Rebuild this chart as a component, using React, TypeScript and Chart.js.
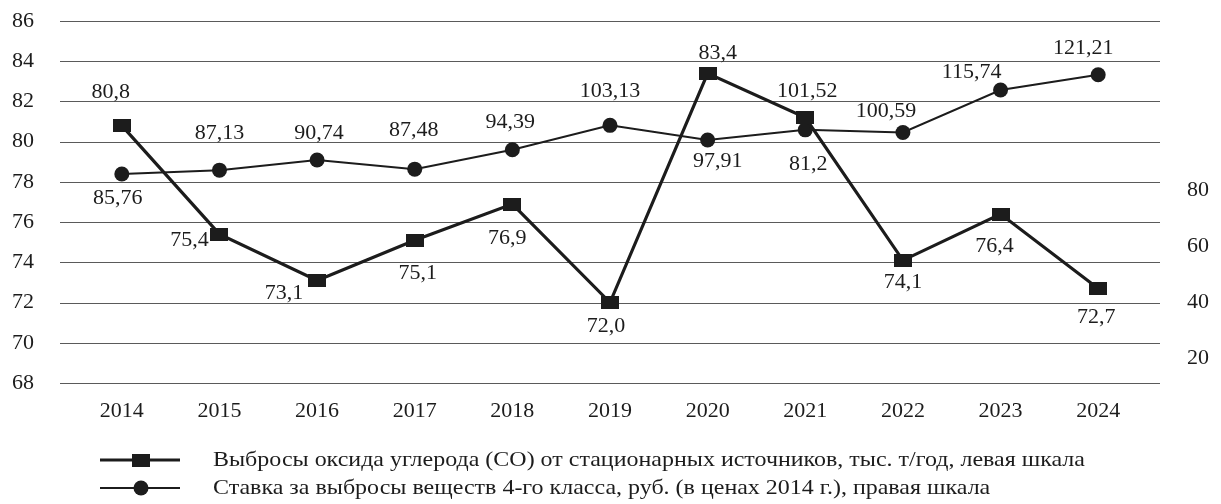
import React, { useEffect, useRef } from "react";
import { Chart, registerables } from "chart.js";

Chart.register(...registerables);

const years = ["2014", "2015", "2016", "2017", "2018", "2019", "2020", "2021", "2022", "2023", "2024"];
// Выбросы CO, тыс. т/год (левая шкала)
const coEmissions = [80.8, 75.4, 73.1, 75.1, 76.9, 72.0, 83.4, 81.2, 74.1, 76.4, 72.7];
// Ставка за выбросы веществ 4-го класса, руб. (правая шкала)
const feeRate = [85.76, 87.13, 90.74, 87.48, 94.39, 103.13, 97.91, 101.52, 100.59, 115.74, 121.21];
const rightTicks = [20, 40, 60, 80];

const coLabel = "Выбросы оксида углерода (CO) от стационарных источников, тыс. т/год, левая шкала";
const feeLabel = "Ставка за выбросы веществ 4-го класса, руб. (в ценах 2014 г.), правая шкала";

// label offsets from each point (px)
const coLabelOffsets: [number, number][] = [
  [-11, -33], [-30, 6], [-33, 13], [3, 33], [-5, 34], [-4, 24],
  [10, -20], [3, 47], [0, 22], [-6, 32], [-2, 29],
];
const feeLabelOffsets: [number, number][] = [
  [-4, 24], [0, -37], [2, -27], [-1, -39], [-2, -28], [0, -34],
  [10, 21], [2, -39], [-17, -21], [-29, -18], [-15, -27],
];

const FONT = '"Liberation Serif", "Times New Roman", serif';
const INK = "#1c1c1c";

function makeRectMarker(w: number, h: number): HTMLCanvasElement {
  const c = document.createElement("canvas");
  c.width = w;
  c.height = h;
  const g = c.getContext("2d")!;
  g.fillStyle = INK;
  g.fillRect(0, 0, w, h);
  return c;
}

const fmt = (v: number, digits: number) => v.toFixed(digits).replace(".", ",");

export default function App() {
  const ref = useRef<HTMLCanvasElement | null>(null);

  useEffect(() => {
    const canvas = ref.current;
    if (!canvas) return;
    const rectMarker = makeRectMarker(18, 13);

    const gridPlugin = {
      id: "extendedGrid",
      beforeDatasetsDraw(chart: any) {
        const { ctx, chartArea, scales } = chart;
        const y = scales.y;
        ctx.save();
        ctx.strokeStyle = "#5a5a5a";
        ctx.lineWidth = 1.2;
        for (const t of y.ticks) {
          const py = Math.round(y.getPixelForValue(t.value)) + 0.5;
          ctx.beginPath();
          ctx.moveTo(chartArea.left - 13, py);
          ctx.lineTo(chartArea.right + 13, py);
          ctx.stroke();
        }
        ctx.restore();
      },
    };

    const labelPlugin = {
      id: "valueLabels",
      afterDatasetsDraw(chart: any) {
        const { ctx } = chart;
        ctx.save();
        ctx.fillStyle = INK;
        ctx.font = `22px ${FONT}`;
        ctx.textAlign = "center";
        ctx.textBaseline = "middle";
        const sets: [number, number[], [number, number][], number][] = [
          [0, coEmissions, coLabelOffsets, 1],
          [1, feeRate, feeLabelOffsets, 2],
        ];
        for (const [di, values, offs, digits] of sets) {
          const meta = chart.getDatasetMeta(di);
          meta.data.forEach((pt: any, i: number) => {
            ctx.fillText(fmt(values[i], digits), pt.x + offs[i][0], pt.y + offs[i][1]);
          });
        }
        ctx.restore();
      },
    };

    const legendPlugin = {
      id: "bottomLegend",
      afterDraw(chart: any) {
        const { ctx } = chart;
        ctx.save();
        const rows = [
          { y: 460, label: coLabel, width: 3, square: true },
          { y: 488, label: feeLabel, width: 2, square: false },
        ];
        for (const r of rows) {
          ctx.strokeStyle = INK;
          ctx.lineWidth = r.width;
          ctx.beginPath();
          ctx.moveTo(100, r.y);
          ctx.lineTo(180, r.y);
          ctx.stroke();
          ctx.fillStyle = INK;
          if (r.square) {
            ctx.drawImage(rectMarker, 141 - 9, r.y - 6.5);
          } else {
            ctx.beginPath();
            ctx.arc(141, r.y, 7.5, 0, Math.PI * 2);
            ctx.fill();
          }
          ctx.save();
          ctx.translate(213, r.y);
          ctx.scale(1.09, 1);
          ctx.font = `22px ${FONT}`;
          ctx.textAlign = "left";
          ctx.textBaseline = "middle";
          ctx.fillText(r.label, 0, 0);
          ctx.restore();
        }
        ctx.restore();
      },
    };

    const tickFont = { family: FONT, size: 22 };

    const chart = new Chart(canvas, {
      type: "line",
      data: {
        labels: years,
        datasets: [
          {
            label: coLabel,
            data: coEmissions,
            yAxisID: "y",
            borderColor: INK,
            borderWidth: 3.2,
            pointStyle: rectMarker as any,
            pointRadius: 9,
            backgroundColor: INK,
            tension: 0,
          },
          {
            label: feeLabel,
            data: feeRate,
            yAxisID: "y1",
            borderColor: INK,
            borderWidth: 2,
            pointStyle: "circle",
            pointRadius: 7.5,
            pointBackgroundColor: INK,
            pointBorderColor: INK,
            pointBorderWidth: 0,
            backgroundColor: INK,
            tension: 0,
          },
        ],
      },
      options: {
        animation: false,
        responsive: true,
        maintainAspectRatio: false,
        layout: { padding: { top: 21, left: 12, right: 12, bottom: 0 } },
        plugins: {
          legend: { display: false },
          tooltip: { enabled: false },
        },
        scales: {
          x: {
            type: "category",
            offset: true,
            grid: { display: false, drawTicks: false },
            border: { display: false },
            ticks: { color: INK, font: tickFont, padding: 15, maxRotation: 0 },
            afterFit(axis: any) {
              axis.height = 121;
            },
          },
          y: {
            position: "left",
            min: 68,
            max: 86,
            ticks: { stepSize: 2, color: INK, font: tickFont, padding: 0, crossAlign: "far" },
            grid: { display: false, drawTicks: false },
            border: { display: false },
            afterFit(axis: any) {
              axis.width = 61;
            },
          },
          y1: {
            position: "right",
            min: 11.1,
            max: 140.4,
            afterBuildTicks(axis: any) {
              axis.ticks = rightTicks.map((v) => ({ value: v }));
            },
            ticks: { color: INK, font: tickFont, padding: 0, crossAlign: "far" },
            grid: { display: false, drawTicks: false },
            border: { display: false },
            afterFit(axis: any) {
              axis.width = 62;
            },
          },
        },
      },
      plugins: [gridPlugin, labelPlugin, legendPlugin],
    });

    return () => chart.destroy();
  }, []);

  return (
    <div style={{ position: "absolute", left: 0, top: 0, width: 1221, height: 504, background: "#fff" }}>
      <canvas ref={ref} />
    </div>
  );
}
